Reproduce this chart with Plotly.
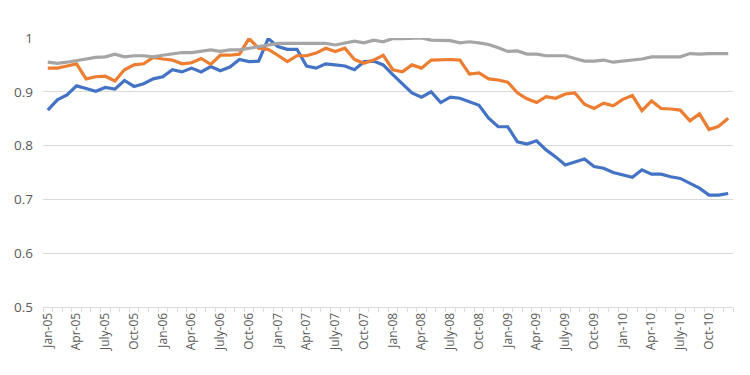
import plotly.graph_objects as go

months = ["Jan", "Feb", "Mar", "Apr", "May", "June", "July", "Aug", "Sep", "Oct", "Nov", "Dec"]
years = ["05", "06", "07", "08", "09", "10"]
categories = [f"{m}-{y}" for y in years for m in months]

blue = [0.866, 0.885, 0.894, 0.911, 0.906, 0.901, 0.908, 0.905, 0.921, 0.910, 0.915, 0.924,
        0.928, 0.941, 0.937, 0.944, 0.937, 0.947, 0.939, 0.946, 0.960, 0.956, 0.957, 0.999,
        0.984, 0.979, 0.979, 0.948, 0.944, 0.952, 0.950, 0.948, 0.941, 0.956, 0.957, 0.950,
        0.932, 0.915, 0.898, 0.890, 0.900, 0.880, 0.890, 0.888, 0.882, 0.875, 0.851, 0.835,
        0.835, 0.807, 0.803, 0.809, 0.792, 0.779, 0.764, 0.770, 0.775, 0.761, 0.758, 0.750,
        0.745, 0.741, 0.755, 0.747, 0.747, 0.742, 0.739, 0.730, 0.721, 0.708, 0.708, 0.711]

orange = [0.944, 0.944, 0.948, 0.952, 0.924, 0.928, 0.929, 0.920, 0.941, 0.950, 0.952, 0.964,
          0.961, 0.959, 0.952, 0.954, 0.962, 0.951, 0.968, 0.968, 0.970, 0.999, 0.981, 0.979,
          0.968, 0.956, 0.967, 0.967, 0.972, 0.981, 0.975, 0.981, 0.960, 0.953, 0.959, 0.968,
          0.941, 0.937, 0.950, 0.944, 0.959, 0.960, 0.960, 0.959, 0.933, 0.935, 0.924, 0.922,
          0.918, 0.898, 0.887, 0.880, 0.891, 0.888, 0.896, 0.898, 0.877, 0.869, 0.879, 0.874,
          0.886, 0.893, 0.865, 0.883, 0.869, 0.868, 0.866, 0.846, 0.859, 0.830, 0.836, 0.851]

gray = [0.955, 0.953, 0.955, 0.958, 0.962, 0.964, 0.965, 0.970, 0.965, 0.967, 0.967, 0.965,
        0.968, 0.970, 0.973, 0.973, 0.975, 0.978, 0.975, 0.978, 0.978, 0.981, 0.985, 0.988,
        0.990, 0.990, 0.990, 0.990, 0.990, 0.990, 0.987, 0.991, 0.994, 0.991, 0.996, 0.993,
        0.999, 0.999, 0.999, 1.000, 0.996, 0.996, 0.995, 0.991, 0.993, 0.991, 0.988, 0.982,
        0.975, 0.976, 0.970, 0.970, 0.967, 0.967, 0.967, 0.962, 0.957, 0.957, 0.959, 0.955,
        0.957, 0.958, 0.961, 0.965, 0.965, 0.965, 0.965, 0.971, 0.970, 0.971, 0.971, 0.971]

y_ticks = [0.5, 0.6, 0.7, 0.8, 0.9, 1.0]
y_ticktext = ["0.5", "0.6", "0.7", "0.8", "0.9", "1"]

idx = list(range(len(categories)))
tick_idx = idx[::3]
tick_text = [categories[i] for i in tick_idx]

fig = go.Figure()
for vals, color in [(blue, "#4472C4"), (orange, "#ED7D31"), (gray, "#A5A5A5")]:
    fig.add_trace(go.Scatter(x=idx, y=vals, mode="lines",
                             line=dict(color=color, width=3.2), showlegend=False))

# page body has an 8px margin, so the figure is 742x367 placed at (8, 8)
fig.update_layout(
    width=742, height=367,
    margin=dict(l=35, r=17, t=30, b=68),
    paper_bgcolor="white", plot_bgcolor="white",
    font=dict(family="Open Sans", color="#595959"),
    xaxis=dict(range=[-0.5, len(categories) - 0.5], tickmode="array",
               tickvals=tick_idx, ticktext=tick_text, tickangle=-90,
               tickfont=dict(size=12, color="#595959"), ticks="",
               showgrid=False, showline=True, linecolor="#d9d9d9", linewidth=1,
               zeroline=False, automargin=False,
               minor=dict(tickmode="array", tickvals=[i - 0.5 for i in range(len(categories) + 1)],
                          ticks="outside", ticklen=4, tickcolor="#d9d9d9", showgrid=False)),
    yaxis=dict(range=[0.5, 1.0], tickmode="array", tickvals=y_ticks, ticktext=y_ticktext,
               tickfont=dict(size=13.5, color="#595959"), showgrid=True,
               gridcolor="#d9d9d9", gridwidth=1, zeroline=False, showline=False,
               ticks="", ticklabelstandoff=9, automargin=False),
    shapes=[
        dict(type="line", xref="paper", yref="paper", x0=(739 - 35) / 690, x1=(739 - 35) / 690,
             y0=-68 / 269, y1=1 + 30 / 269, line=dict(color="#d9d9d9", width=1.5)),
    ],
)

fig.write_html("out.html")
